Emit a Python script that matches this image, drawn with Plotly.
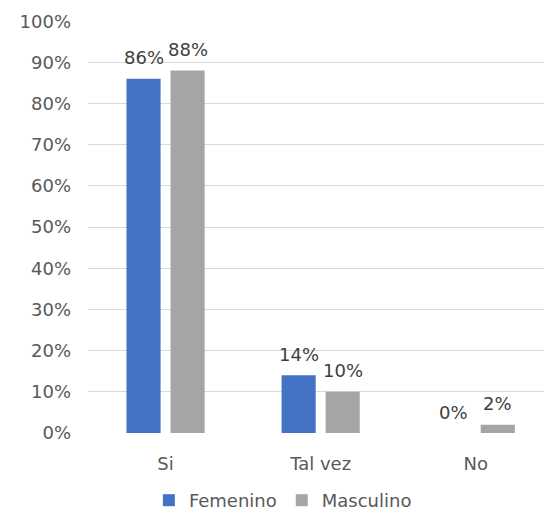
import plotly.graph_objects as go

# Survey answers by gender (share of respondents)
categorias = ["Si", "Tal vez", "No"]
femenino = [0.86, 0.14, 0.00]
masculino = [0.88, 0.10, 0.02]
ticks_y = [0, 0.1, 0.2, 0.3, 0.4, 0.5, 0.6, 0.7, 0.8, 0.9, 1.0]
ticks_y_texto = ["0%", "10%", "20%", "30%", "40%", "50%", "60%", "70%", "80%", "90%", "100%"]

FONT = "DejaVu Sans"
AZUL = "#4472C4"
GRIS = "#A5A5A5"
BAR_W = 0.22

fig = go.Figure()
fig.add_trace(go.Bar(
    name="Femenino", x=categorias, y=femenino,
    marker=dict(color=AZUL, line=dict(width=0)),
    width=BAR_W, offset=-0.252, hoverinfo="skip",
))
fig.add_trace(go.Bar(
    name="Masculino", x=categorias, y=masculino,
    marker=dict(color=GRIS, line=dict(width=0)),
    width=BAR_W, offset=0.032, hoverinfo="skip",
))

# Value labels above each bar
annotations = []
for serie, off in ((femenino, -0.252), (masculino, 0.032)):
    for i, v in enumerate(serie):
        annotations.append(dict(
            x=i + off + BAR_W / 2, y=v, xref="x", yref="y",
            text=f"{round(v * 100)}%", showarrow=False,
            yanchor="middle", yshift=21,
            font=dict(family=FONT, size=18, color="#404040"),
        ))

fig.update_layout(
    width=544, height=519,
    margin=dict(l=88, r=0, t=21, b=86),
    paper_bgcolor="white", plot_bgcolor="white",
    barmode="overlay",
    showlegend=True,
    legend=dict(
        orientation="h", xref="container", yref="container",
        x=0.52, xanchor="center", y=0.0, yanchor="bottom",
        font=dict(family=FONT, size=18, color="#595959"),
        itemwidth=30, traceorder="normal",
    ),
    annotations=annotations,
    font=dict(family=FONT, size=18, color="#595959"),
)
fig.update_xaxes(
    range=[-0.5, 2.44], showgrid=False, zeroline=False, showline=False,
    ticks="", ticklabelstandoff=18,
    tickfont=dict(family=FONT, size=18, color="#595959"),
)
fig.update_yaxes(
    range=[0, 1.0005], tickvals=ticks_y, ticktext=ticks_y_texto,
    showgrid=True, gridcolor="#D9D9D9", gridwidth=1.3,
    zeroline=False, showline=False, ticks="", ticklabelstandoff=16,
    tickfont=dict(family=FONT, size=18, color="#595959"),
)

fig.write_html("out.html")
